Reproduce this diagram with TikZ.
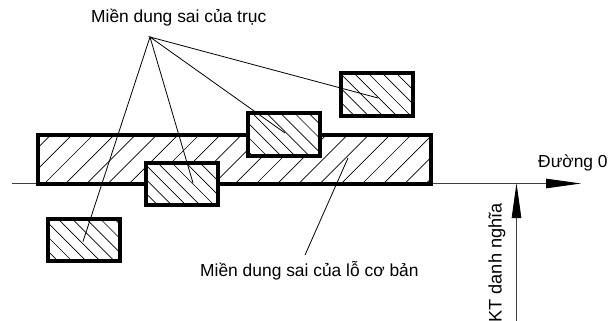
\documentclass[tikz,border=0pt]{standalone}
\usepackage{fontspec}
\setmainfont{Liberation Sans}
\usetikzlibrary{arrows.meta,positioning}
\tikzset{
  frame/.style={draw=black,line width=4pt,line join=miter,minimum width=#1,inner sep=0pt,outer sep=0pt},
  frame/.default=72pt,
  thin line/.style={draw=black!75,line width=0.8pt},
  hatch/.style={draw=black,line width=0.7pt},
  lead/.style={draw=black,line width=0.8pt},
  label/.style={inner sep=0pt,font=\fontsize{17.4}{20}\selectfont},
  bighead/.style={-{Triangle[length=35pt,width=9.5pt,color=black]}},
}
% name, centre x, centre y, const
\newcommand{\shaftbox}[4]{%
  \node[frame,fill=white,minimum height=42.5pt,draw=none] (#1) at (#2,#3) {};
  \begin{scope}
    \clip (#1.south west) rectangle (#1.north east);
    \foreach \k in {-8,...,8} {
      \draw[hatch] ({#2+#4+\k*14.1-40},{#3-40}) -- ++(80,80);
    }
  \end{scope}
  \node[frame,minimum height=42.5pt] at (#2,#3) {};
}
\begin{document}
\begin{tikzpicture}[x=1pt,y=-1pt]
\useasboundingbox (0,0) rectangle (608,321);
\fill[white] (0,0) rectangle (608,321);
% zero line
\coordinate (zs) at (12,183.5);
\coordinate (ze) at (581,183.5);
\draw[thin line,bighead] (zs) -- (ze);
% hole zone
\node[frame,minimum width=393pt,minimum height=49pt,draw=none,fill=white] (hole) at (234.5,159) {};
\begin{scope}
  \clip (hole.south west) rectangle (hole.north east);
  \foreach \k in {-3,...,22} {
    \draw[hatch] ({38+\k*21.2},190) -- ++(70,-70);
  }
\end{scope}
\node[frame,minimum width=393pt,minimum height=49pt] at (234.5,159) {};
% shaft zones
\shaftbox{a}{83.8}{240}{-4.6}
\shaftbox{b}{182}{183.8}{-3.3}
\shaftbox{c}{283.5}{134.7}{4.5}
\shaftbox{d}{377}{94.3}{-1.8}
% labels
\node[label,anchor=west] (t1) at (91,18) {Miền dung sai của trục};
\node[label,anchor=west] (t2) at (200,271) {Miền dung sai của lỗ cơ bản};
\node[label,anchor=west] (t3) at (538,163) {Đường 0};
\node[label,anchor=east,rotate=90,font=\fontsize{18.2}{20}\selectfont] (t4) at (497,203) {KT danh nghĩa};
% leaders
\coordinate (apex) at (150,37);
\coordinate (pa) at (83,241.5);
\coordinate (pb) at (193,183);
\coordinate (pc) at (285,133);
\coordinate (pd) at (378,98);
\draw[lead] (pa) -- (apex) -- (pb);
\draw[lead] (pc) -- (apex) -- (pd);
\coordinate (ph) at (348,158);
\coordinate (pt) at (305,255);
\draw[lead] (ph) -- (pt);
% nominal size arrow
\coordinate (ns) at (516.5,321);
\coordinate (ne) at (516.5,183);
\draw[thin line,bighead] (ns) -- (ne);
\end{tikzpicture}
\end{document}
